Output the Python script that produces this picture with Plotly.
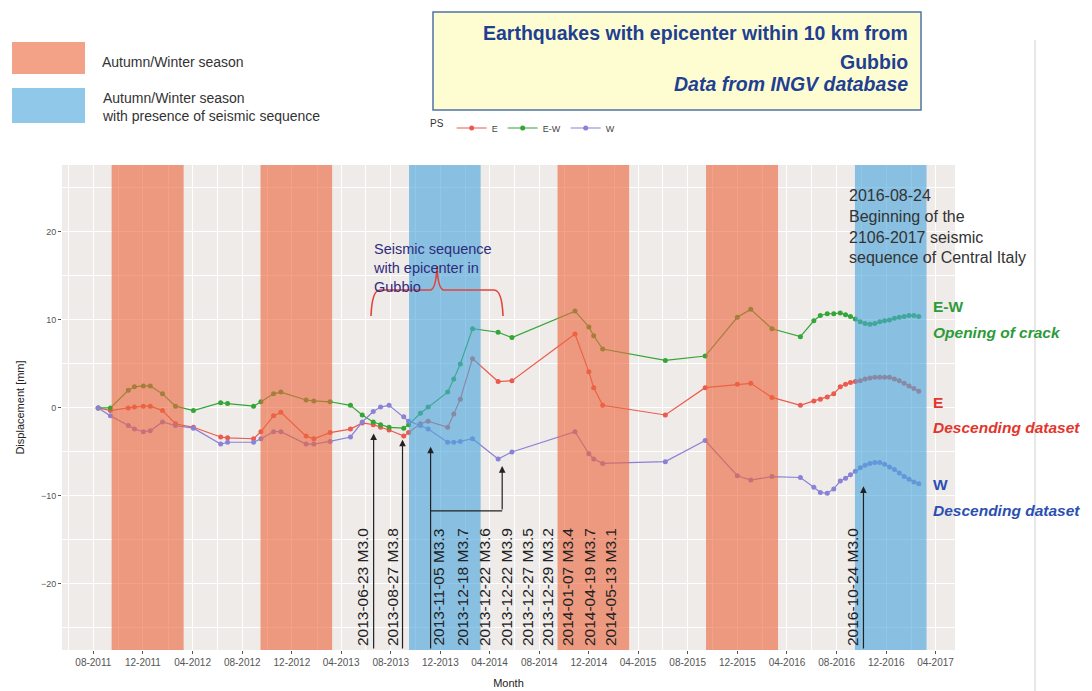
import plotly.graph_objects as go

# ---------------- data ----------------
dates = ['2011-08-13', '2011-09-12', '2011-10-26', '2011-11-10', '2011-12-02', '2011-12-19',
         '2012-01-18', '2012-02-19', '2012-04-03', '2012-06-09', '2012-06-26', '2012-08-29',
         '2012-09-16', '2012-10-17', '2012-11-04', '2013-01-05', '2013-01-24', '2013-03-05',
         '2013-04-24', '2013-05-23', '2013-06-19', '2013-07-07', '2013-07-28', '2013-09-02',
         '2013-09-14', '2013-10-13', '2013-11-01', '2013-12-19', '2014-01-03', '2014-01-19',
         '2014-02-18', '2014-04-22', '2014-05-26', '2014-10-28', '2014-12-01', '2014-12-13',
         '2015-01-04', '2015-06-07', '2015-09-13', '2015-12-01', '2016-01-03', '2016-02-24',
         '2016-05-04', '2016-06-06', '2016-06-22', '2016-07-09', '2016-07-25', '2016-08-10',
         '2016-08-23', '2016-09-04', '2016-09-16', '2016-09-28', '2016-10-10', '2016-10-22',
         '2016-11-03', '2016-11-15', '2016-11-27', '2016-12-09', '2016-12-21', '2017-01-02',
         '2017-01-14', '2017-01-26', '2017-02-07', '2017-02-19']

ps_e = [0, -0.3, 0.0, 0.1, 0.2, 0.2, -0.3, -1.8, -2.2, -3.3, -3.4, -3.5,
        -2.7, -0.9, -0.5, -3.2, -3.5, -2.8, -2.4, -1.7, -1.9, -2.2, -2.5, -3.2,
        -2.8, -1.8, -1.5, -2.2, -0.7, 1.0, 5.6, 3.0, 3.1, 8.4, 4.1, 2.3,
        0.3, -0.8, 2.3, 2.7, 2.8, 1.2, 0.3, 0.8, 1.0, 1.25, 1.6, 2.4,
        2.7, 2.9, 3.0, 3.1, 3.3, 3.4, 3.5, 3.5, 3.5, 3.5, 3.3, 3.1,
        2.8, 2.5, 2.2, 1.9]

ps_ew = [0, 0.0, 2.0, 2.4, 2.5, 2.5, 1.6, 0.2, -0.3, 0.6, 0.5, 0.2,
         0.7, 1.6, 1.8, 0.9, 0.8, 0.7, 0.3, -0.8, -1.6, -1.9, -2.2, -2.3,
         -1.9, -0.6, 0.1, 1.8, 3.3, 5.0, 9.0, 8.6, 8.0, 11.0, 9.2, 8.2,
         6.7, 5.4, 5.9, 10.3, 11.2, 9.0, 8.1, 9.9, 10.5, 10.7, 10.7, 10.8,
         10.6, 10.4, 10.1, 9.8, 9.6, 9.5, 9.6, 9.8, 9.9, 10.0, 10.2, 10.3,
         10.4, 10.5, 10.5, 10.4]

ps_w = [0, -0.9, -2.0, -2.4, -2.7, -2.6, -1.6, -2.0, -2.3, -4.1, -3.9, -3.9,
        -3.5, -2.7, -2.7, -4.1, -4.1, -3.8, -3.3, -1.6, -0.4, 0.1, 0.3, -1.0,
        -1.5, -2.0, -2.4, -3.9, -3.9, -3.8, -3.5, -5.8, -5.0, -2.7, -5.2, -5.8,
        -6.3, -6.1, -3.7, -7.7, -8.2, -7.8, -7.9, -9.0, -9.6, -9.7, -9.2, -8.3,
        -8.0, -7.6, -7.2, -6.8, -6.5, -6.3, -6.2, -6.2, -6.4, -6.7, -7.0, -7.4,
        -7.8, -8.1, -8.4, -8.6]

season_start = ['2011-09-15', '2012-09-15', '2013-09-15', '2014-09-15', '2015-09-15', '2016-09-15']
season_end = ['2012-03-10', '2013-03-10', '2014-03-10', '2015-03-10', '2016-03-10', '2017-03-10']
season_seismic = [False, False, True, False, False, True]

event_labels = ['2013-06-23 M3.0', '2013-08-27 M3.8', '2013-11-05 M3.3', '2013-12-18 M3.7',
                '2013-12-22 M3.6', '2013-12-22 M3.9', '2013-12-27 M3.5', '2013-12-29 M3.2',
                '2014-01-07 M3.4', '2014-04-19 M3.7', '2014-05-13 M3.1', '2016-10-24 M3.0']

# ---------------- styles / layout helpers ----------------
C_E, C_EW, C_W = '#EC5A4E', '#33A636', '#8A82D6'
ORANGE = 'rgba(236,104,62,0.62)'
BLUE = 'rgba(74,166,220,0.62)'

PAGE_OFF = 8                      # body margin of the html page
W_FIG, H_FIG = 1092 - PAGE_OFF, 691 - PAGE_OFF
L, R, T, B = 62, 955, 165, 650    # plot area in page pixels


def px(xp):
    return (xp - L) / (R - L)


def py(yp):
    return (B - yp) / (B - T)


fig = go.Figure()
for name, vals, col in [('E', ps_e, C_E), ('E-W', ps_ew, C_EW), ('W', ps_w, C_W)]:
    fig.add_trace(go.Scatter(x=dates, y=vals, mode='lines+markers', name=name,
                             line=dict(color=col, width=1.2),
                             marker=dict(color=col, size=5)))

shapes = []
for s, e, k in zip(season_start, season_end, season_seismic):
    shapes.append(dict(type='rect', xref='x', yref='paper', x0=s, x1=e, y0=0, y1=1,
                       fillcolor=BLUE if k else ORANGE, line=dict(width=0), layer='above'))

# legend swatches (top-left)
shapes.append(dict(type='rect', xref='paper', yref='paper', x0=px(12), x1=px(85), y0=py(74), y1=py(42),
                   fillcolor=ORANGE, line=dict(width=0)))
shapes.append(dict(type='rect', xref='paper', yref='paper', x0=px(12), x1=px(85), y0=py(123), y1=py(88),
                   fillcolor=BLUE, line=dict(width=0)))
# title box
shapes.append(dict(type='rect', xref='paper', yref='paper', x0=px(433), x1=px(921), y0=py(110), y1=py(12),
                   fillcolor='#FEFDD2', line=dict(color='#4F72A8', width=1.5)))
# brace
brace = ('M {a},{b} Q {c},{d} {e},{d} L {f},{d} Q {g},{d} {h},{i} Q {j},{d} {k},{d} L {l},{d} Q {m},{d} {n},{b}'
         ).format(a=px(371), b=py(316), c=px(372), d=py(290), e=px(380), f=px(430), g=px(436), h=px(437),
                  i=py(266), j=px(438), k=px(444), l=px(494), m=px(502), n=px(503))
shapes.append(dict(type='path', xref='paper', yref='paper', path=brace,
                   line=dict(color='#E2443A', width=1.6)))
# elbow connector (2013-11-05 -> spring 2014)
shapes.append(dict(type='line', xref='x', yref='y', x0='2013-11-07', x1='2014-05-02', y0=-11.7, y1=-11.7,
                   line=dict(color='#222', width=1.2)))
# outer border line
shapes.append(dict(type='line', xref='paper', yref='paper', x0=px(1035), x1=px(1035), y0=py(691), y1=py(40),
                   line=dict(color='#CFCFCF', width=1)))

ann = []
ann.append(dict(xref='paper', yref='paper', x=px(100), y=py(62), xanchor='left', yanchor='middle',
                text='Autumn/Winter season', showarrow=False, font=dict(size=14, color='#333')))
ann.append(dict(xref='paper', yref='paper', x=px(100), y=py(107), xanchor='left', yanchor='middle', align='left',
                text='Autumn/Winter season<br>with presence of seismic sequence', showarrow=False,
                font=dict(size=14, color='#333')))
TBLUE = '#1E3F92'
ann.append(dict(xref='paper', yref='paper', x=px(910), y=py(33), xanchor='right', yanchor='middle',
                text='<b>Earthquakes with epicenter within 10 km from</b>', showarrow=False,
                font=dict(size=19.5, color=TBLUE)))
ann.append(dict(xref='paper', yref='paper', x=px(910), y=py(62), xanchor='right', yanchor='middle',
                text='<b>Gubbio</b>', showarrow=False, font=dict(size=19.5, color=TBLUE)))
ann.append(dict(xref='paper', yref='paper', x=px(910), y=py(84), xanchor='right', yanchor='middle',
                text='<b><i>Data from INGV database</i></b>', showarrow=False, font=dict(size=19.5, color=TBLUE)))

# right-side labels
for txt, yp, col in [('<b>E-W</b>', 306, '#2E9B3A'), ('<b><i>Opening of crack</i></b>', 332, '#2E9B3A'),
                     ('<b>E</b>', 402, '#E2362D'), ('<b><i>Descending dataset</i></b>', 427, '#E2362D'),
                     ('<b>W</b>', 484, '#2B4FB2'), ('<b><i>Descending dataset</i></b>', 510, '#2B4FB2')]:
    ann.append(dict(xref='paper', yref='paper', x=px(931), y=py(yp), xanchor='left', yanchor='middle',
                    text=txt, showarrow=False, font=dict(size=15.5, color=col)))

ann.append(dict(xref='paper', yref='paper', x=px(371), y=py(268), xanchor='left', yanchor='middle', align='left',
                text='Seismic sequence<br>with epicenter in<br>Gubbio', showarrow=False,
                font=dict(size=14.5, color='#2F2C7C')))
ann.append(dict(xref='paper', yref='paper', x=px(847), y=py(226), xanchor='left', yanchor='middle', align='left',
                text='2016-08-24<br>Beginning of the<br>2106-2017 seismic<br>sequence of Central Italy',
                showarrow=False, font=dict(size=16, color='#333')))

# rotated event labels
label_x = [362, 392, 439, 462, 484, 506, 527, 547, 567, 589, 610, 852]
for t, xp in zip(event_labels, label_x):
    ann.append(dict(xref='paper', yref='paper', x=px(xp), y=0.004, xanchor='center', yanchor='bottom',
                    textangle=-90, text=t, showarrow=False, font=dict(size=15.5, color='#222')))

# arrows
arrows = [('2013-06-20', -2.9), ('2013-08-30', -3.6), ('2013-11-07', -4.4), ('2014-05-02', -6.6),
          ('2016-10-06', -8.9)]
for xa, ya in arrows:
    tail = -11.7 if xa == '2014-05-02' else -27.5
    ann.append(dict(x=xa, y=ya, xref='x', yref='y', ax=0, ay=tail, ayref='y', text='', showarrow=True,
                    arrowhead=2, arrowsize=1.1, arrowwidth=1.2, arrowcolor='#222'))

fig.update_layout(
    width=W_FIG, height=H_FIG, autosize=False,
    margin=dict(l=L - PAGE_OFF, r=W_FIG + PAGE_OFF - R, t=T - PAGE_OFF, b=H_FIG + PAGE_OFF - B),
    paper_bgcolor='white', plot_bgcolor='#EFEBE9',
    shapes=shapes, annotations=ann,
    font=dict(family='Liberation Sans, Arial, sans-serif', color='#333'),
    showlegend=True,
    legend=dict(orientation='h', x=px(428), y=py(128), xanchor='left', yanchor='middle',
                title=dict(text='PS', side='left', font=dict(size=10, color='#333')),
                font=dict(size=9, color='#444'), bgcolor='rgba(0,0,0,0)', itemwidth=30),
    xaxis=dict(type='date', range=['2011-05-16', '2017-05-19'], tickformat='%m-%Y', automargin=False,
               dtick='M4', tick0='2011-08-01', showgrid=True, gridcolor='white', gridwidth=1.1,
               ticks='outside', ticklen=3, tickcolor='#555', tickfont=dict(size=10, color='#555'),
               minor=dict(dtick='M2', tick0='2011-06-01', showgrid=True, gridcolor='white', gridwidth=0.5),
               zeroline=False, showline=False,
               title=dict(text='Month', font=dict(size=11, color='#222'), standoff=12)),
    yaxis=dict(range=[-27.5, 27.6], tickvals=[-20, -10, 0, 10, 20], showgrid=True, gridcolor='white',
               automargin=False,
               gridwidth=1.1, ticks='outside', ticklen=3, tickcolor='#555', tickfont=dict(size=9, color='#555'),
               minor=dict(tickvals=[-25, -15, -5, 5, 15, 25], showgrid=True, gridcolor='white', gridwidth=0.5),
               zeroline=False, showline=False,
               title=dict(text='Displacement [mm]', font=dict(size=11, color='#222'), standoff=14)),
)

fig.write_html('out.html')
